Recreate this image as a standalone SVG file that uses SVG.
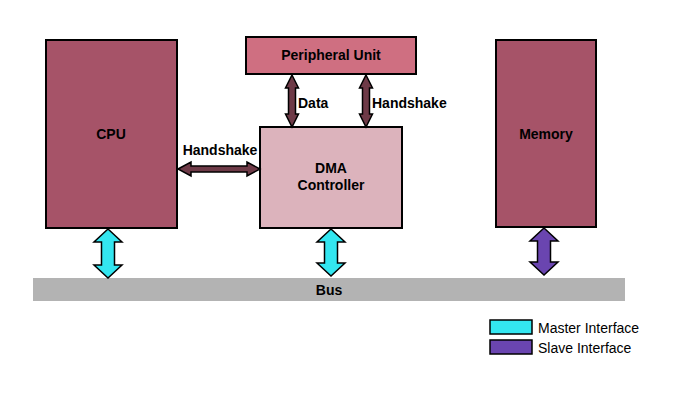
<svg xmlns="http://www.w3.org/2000/svg" width="700" height="400" viewBox="0 0 700 400">
<style>
.box{stroke:#000;stroke-width:2}
.dark{fill:#a65368}
.t{font-family:"Liberation Sans",Arial,sans-serif;font-size:14px;font-weight:bold;fill:#000;text-anchor:middle}
.ts{font-family:"Liberation Sans",Arial,sans-serif;font-size:14px;font-weight:bold;fill:#000}
.lg{font-family:"Liberation Sans",Arial,sans-serif;font-size:14px;fill:#000}
.arr{stroke:#000;stroke-width:1.5;stroke-linejoin:miter}
.hs{fill:#6e3a47}
.ma{fill:#33e6f0}
.sl{fill:#6a45b0}
</style>
<rect width="700" height="400" fill="#fff"/>
<g id="bus"><rect x="33" y="278" width="592" height="23" fill="#b3b3b3"/><text class="t" x="329" y="295">Bus</text></g>
<g id="cpu"><rect class="box dark" x="46" y="40" width="131" height="188"/><text class="t" x="111" y="139">CPU</text></g>
<g id="peripheral"><rect class="box" x="246" y="37" width="170" height="37" fill="#cf6f81"/><text class="t" x="331" y="60">Peripheral Unit</text></g>
<g id="dma"><rect class="box" x="260" y="127" width="142" height="101" fill="#dcb3bc"/><text class="t" x="331" y="173">DMA</text><text class="t" x="331" y="190">Controller</text></g>
<g id="memory"><rect class="box dark" x="496" y="40" width="100" height="187"/><text class="t" x="546" y="139">Memory</text></g>
<g id="connectors">
<path class="arr hs" d="M178,169 L191,162 L191,166 L247,166 L247,162 L260,169 L247,176 L247,172 L191,172 L191,176 Z"/>
<path class="arr hs" d="M292,75 L298.5,88 L295.5,88 L295.5,114 L298.5,114 L292,127 L285.5,114 L288.5,114 L288.5,88 L285.5,88 Z"/>
<path class="arr hs" d="M366,75 L372.5,88 L369.5,88 L369.5,114 L372.5,114 L366,127 L359.5,114 L362.5,114 L362.5,88 L359.5,88 Z"/>
<path class="arr ma" d="M108,229 L122,242 L114.5,242 L114.5,265 L122,265 L108,278 L94,265 L101.5,265 L101.5,242 L94,242 Z"/>
<path class="arr ma" d="M331,229 L345,242 L337.5,242 L337.5,263 L345,263 L331,276 L317,263 L324.5,263 L324.5,242 L317,242 Z"/>
<path class="arr sl" d="M544,228 L558,241 L550.5,241 L550.5,262 L558,262 L544,275 L530,262 L537.5,262 L537.5,241 L530,241 Z"/>
<text class="t" x="220" y="155">Handshake</text>
<text class="ts" x="298" y="108">Data</text>
<text class="ts" x="372" y="108">Handshake</text>
</g>
<g id="legend">
<rect x="490" y="320" width="42" height="14" fill="#33e6f0" stroke="#000" stroke-width="1.5"/>
<rect x="490" y="340" width="42" height="14" fill="#6a45b0" stroke="#000" stroke-width="1.5"/>
<text class="lg" x="538" y="333">Master Interface</text>
<text class="lg" x="538" y="353">Slave Interface</text>
</g>
</svg>
